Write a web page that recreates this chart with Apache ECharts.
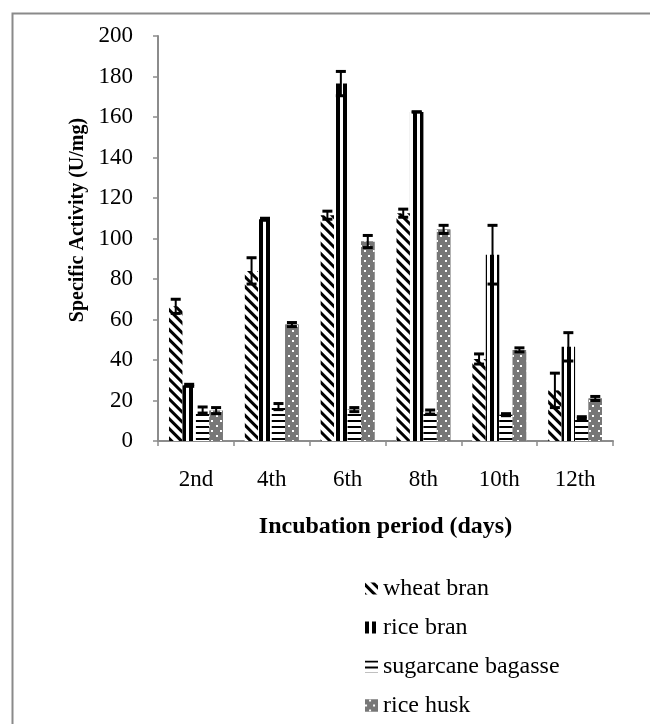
<!DOCTYPE html>
<html>
<head>
<meta charset="utf-8">
<script src="https://cdn.jsdelivr.net/npm/echarts@6/dist/echarts.min.js"></script>
<style>html,body{margin:0;padding:0;background:#fff}#c{width:650px;height:724px}</style>
</head>
<body>
<div id="c"></div>
<script>
const categories = ['2nd', '4th', '6th', '8th', '10th', '12th'];
const seriesNames = ['wheat bran', 'rice bran', 'sugarcane bagasse', 'rice husk'];
const wheatBran = [66.5, 84, 111.5, 112.5, 40.5, 25];
const wheatBranErr = [3.5, 6.5, 2, 2, 2.5, 8.5];
const riceBran = [27.5, 109.5, 176.5, 162.5, 92, 46.5];
const riceBranErr = [0.5, 0.5, 6, 0, 14.5, 7];
const sugarcane = [15.3, 17, 15.5, 14.3, 13, 11.5];
const sugarcaneErr = [1.5, 1.5, 1, 1, 0.5, 0.5];
const riceHusk = [15, 57.5, 98.5, 104.5, 45, 21];
const riceHuskErr = [1.5, 1, 3, 2, 1, 1];
const yTicks = [0, 20, 40, 60, 80, 100, 120, 140, 160, 180, 200];
const xTitle = 'Incubation period (days)';
const yTitle = 'Specific Activity (U/mg)';

const values = [wheatBran, riceBran, sugarcane, riceHusk];
const errs = [wheatBranErr, riceBranErr, sugarcaneErr, riceHuskErr];

const FONT = '"Liberation Serif", "Times New Roman", serif';
const CAT_GAP = 0.29;

const styles = [
  { color: '#ffffff', decal: { symbol: 'rect', symbolSize: 1, color: '#000', backgroundColor: '#fff', dashArrayX: [1, 0], dashArrayY: [3, 3.5], rotation: Math.PI / 4 } },
  { color: '#ffffff', decal: { symbol: 'rect', symbolSize: 1, color: '#000', backgroundColor: '#fff', dashArrayX: [4, 3], dashArrayY: [1, 0], rotation: 0 } },
  { color: '#ffffff', decal: { symbol: 'rect', symbolSize: 1, color: '#000', backgroundColor: '#fff', dashArrayX: [1, 0], dashArrayY: [1.5, 3.5], rotation: 0 } },
  { color: '#777777', decal: { symbol: 'rect', symbolSize: 1, color: '#ffffff', backgroundColor: '#777777', dashArrayX: [[1.5, 6], [0, 3.75, 1.5, 2.25]], dashArrayY: [1.5, 3], rotation: 0 } }
];

const barSeries = seriesNames.map((n, i) => ({
  name: n,
  type: 'bar',
  data: values[i],
  barGap: '0%',
  barCategoryGap: (CAT_GAP * 100) + '%',
  itemStyle: { color: styles[i].color, decal: styles[i].decal },
  emphasis: { disabled: true },
  z: 2
}));

const errSeries = seriesNames.map((n, i) => ({
  name: n + ' err',
  type: 'custom',
  z: 5,
  data: values[i].map((v, k) => [k, v, errs[i][k]]),
  encode: { x: 0, y: 1 },
  renderItem: function (params, api) {
    const k = api.value(0), v = api.value(1), e = api.value(2);
    const band = api.size([1, 0])[0];
    const group = band * (1 - CAT_GAP);
    const bw = group / 4;
    const c = api.coord([k, v]);
    const x = c[0] - group / 2 + bw * (i + 0.5);
    const top = api.coord([k, v + e])[1];
    const bot = api.coord([k, v - e])[1];
    const hw = 5;
    return {
      type: 'group',
      children: [
        { type: 'line', shape: { x1: x, y1: top, x2: x, y2: bot }, style: { stroke: '#000', lineWidth: 2 } },
        { type: 'line', shape: { x1: x - hw, y1: top, x2: x + hw, y2: top }, style: { stroke: '#000', lineWidth: 3 } },
        { type: 'line', shape: { x1: x - hw, y1: bot, x2: x + hw, y2: bot }, style: { stroke: '#000', lineWidth: 3 } }
      ]
    };
  }
}));

const chart = echarts.init(document.getElementById('c'), null, { renderer: 'canvas' });
chart.setOption({
  animation: false,
  backgroundColor: '#fff',
  textStyle: { fontFamily: FONT },
  graphic: [
    {
      type: 'rect', left: 10, top: 11, shape: { x: 0, y: 0, width: 700, height: 760 },
      style: { fill: 'none', stroke: '#8a8a8a', lineWidth: 2 }, silent: true, z: -1
    },
    {
      type: 'text', x: 78, y: 220, rotation: Math.PI / 2, silent: true,
      style: { text: yTitle, font: 'bold 20px ' + FONT, fill: '#000', align: 'center', verticalAlign: 'middle' }
    }
  ],
  grid: { left: 158, right: 37, top: 36, bottom: 283, containLabel: false },
  legend: {
    data: seriesNames,
    orient: 'vertical',
    left: 365,
    top: 576,
    padding: 0,
    height: 148,
    itemWidth: 13,
    itemHeight: 12,
    itemGap: 14,
    icon: 'rect',
    textStyle: { fontFamily: FONT, fontSize: 24, color: '#000', lineHeight: 25 },
    selectedMode: false
  },
  xAxis: {
    type: 'category',
    data: categories,
    name: xTitle,
    nameLocation: 'middle',
    nameGap: 74,
    nameTextStyle: { fontFamily: FONT, fontSize: 24, fontWeight: 'bold', color: '#000' },
    axisLine: { lineStyle: { color: '#8c8c8c', width: 2 } },
    axisTick: { show: true, length: 5, lineStyle: { color: '#8c8c8c', width: 1.5 } },
    axisLabel: { fontFamily: FONT, fontSize: 23, color: '#000', margin: 27 },
    splitLine: { show: false }
  },
  yAxis: {
    type: 'value',
    min: yTicks[0],
    max: yTicks[yTicks.length - 1],
    interval: 20,
    axisLine: { show: true, lineStyle: { color: '#8c8c8c', width: 2 } },
    axisTick: { show: true, length: 5, lineStyle: { color: '#8c8c8c', width: 1.5 } },
    axisLabel: { fontFamily: FONT, fontSize: 23, color: '#000', margin: 25 },
    splitLine: { show: false }
  },
  series: barSeries.concat(errSeries)
});
</script>
</body>
</html>
